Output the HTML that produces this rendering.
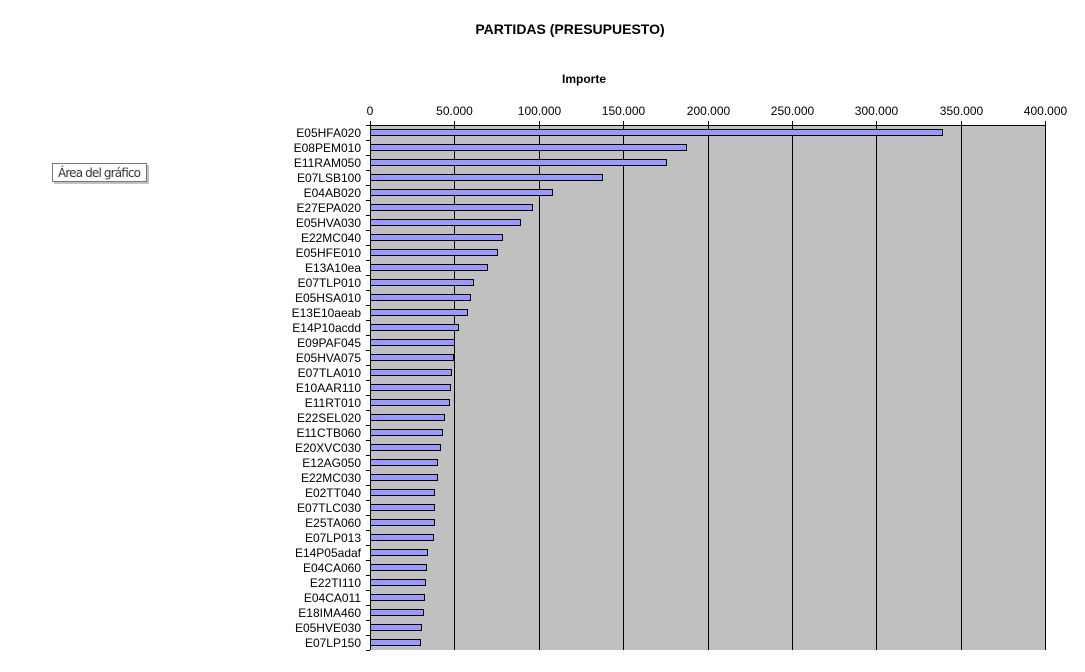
<!DOCTYPE html>
<html><head><meta charset="utf-8"><style>
body{margin:0;background:#fff;width:1085px;height:667px;overflow:hidden;font-family:"Liberation Sans",Arial,sans-serif}
</style></head><body>
<svg width="1085" height="667" xmlns="http://www.w3.org/2000/svg" font-family="Liberation Sans, Arial, sans-serif">
<rect x="0" y="0" width="1085" height="667" fill="#fff"/>
<text x="570" y="34" font-size="14" font-weight="bold" text-anchor="middle">PARTIDAS (PRESUPUESTO)</text>
<text x="584" y="83" font-size="12" font-weight="bold" text-anchor="middle">Importe</text>
<rect x="370" y="125" width="675.5" height="525" fill="#c0c0c0"/>
<g stroke="#000" stroke-width="1">
<line x1="454.5" y1="121" x2="454.5" y2="650"/>
<line x1="539.5" y1="121" x2="539.5" y2="650"/>
<line x1="623.5" y1="121" x2="623.5" y2="650"/>
<line x1="708.5" y1="121" x2="708.5" y2="650"/>
<line x1="792.5" y1="121" x2="792.5" y2="650"/>
<line x1="876.5" y1="121" x2="876.5" y2="650"/>
<line x1="961.5" y1="121" x2="961.5" y2="650"/>
<line x1="1045.5" y1="121" x2="1045.5" y2="650"/>
<line x1="370.5" y1="121" x2="370.5" y2="650"/>
<line x1="370" y1="125.5" x2="1046" y2="125.5"/>
</g>
<g font-size="12" text-anchor="middle">
<text x="370" y="115">0</text><text x="454.5" y="115">50.000</text><text x="539.5" y="115">100.000</text><text x="623.5" y="115">150.000</text><text x="708.5" y="115">200.000</text><text x="792.5" y="115">250.000</text><text x="876.5" y="115">300.000</text><text x="961.5" y="115">350.000</text><text x="1045.5" y="115">400.000</text>
</g>
<g fill="#9999ff" stroke="#000" stroke-width="1">
<rect x="370.5" y="129.5" width="572" height="6"/>
<rect x="370.5" y="144.5" width="316" height="6"/>
<rect x="370.5" y="159.5" width="296" height="6"/>
<rect x="370.5" y="174.5" width="232" height="6"/>
<rect x="370.5" y="189.5" width="182" height="6"/>
<rect x="370.5" y="204.5" width="162" height="6"/>
<rect x="370.5" y="219.5" width="150" height="6"/>
<rect x="370.5" y="234.5" width="132" height="6"/>
<rect x="370.5" y="249.5" width="127" height="6"/>
<rect x="370.5" y="264.5" width="117" height="6"/>
<rect x="370.5" y="279.5" width="103" height="6"/>
<rect x="370.5" y="294.5" width="100" height="6"/>
<rect x="370.5" y="309.5" width="97" height="6"/>
<rect x="370.5" y="324.5" width="88" height="6"/>
<rect x="370.5" y="339.5" width="84" height="6"/>
<rect x="370.5" y="354.5" width="83" height="6"/>
<rect x="370.5" y="369.5" width="81" height="6"/>
<rect x="370.5" y="384.5" width="80" height="6"/>
<rect x="370.5" y="399.5" width="79" height="6"/>
<rect x="370.5" y="414.5" width="74" height="6"/>
<rect x="370.5" y="429.5" width="72" height="6"/>
<rect x="370.5" y="444.5" width="70" height="6"/>
<rect x="370.5" y="459.5" width="67" height="6"/>
<rect x="370.5" y="474.5" width="67" height="6"/>
<rect x="370.5" y="489.5" width="64" height="6"/>
<rect x="370.5" y="504.5" width="64" height="6"/>
<rect x="370.5" y="519.5" width="64" height="6"/>
<rect x="370.5" y="534.5" width="63" height="6"/>
<rect x="370.5" y="549.5" width="57" height="6"/>
<rect x="370.5" y="564.5" width="56" height="6"/>
<rect x="370.5" y="579.5" width="55" height="6"/>
<rect x="370.5" y="594.5" width="54" height="6"/>
<rect x="370.5" y="609.5" width="53" height="6"/>
<rect x="370.5" y="624.5" width="51" height="6"/>
<rect x="370.5" y="639.5" width="50" height="6"/>
</g>
<g stroke="#000" stroke-width="1">
<line x1="366" y1="125.5" x2="370" y2="125.5"/><line x1="366" y1="140.5" x2="370" y2="140.5"/><line x1="366" y1="155.5" x2="370" y2="155.5"/><line x1="366" y1="170.5" x2="370" y2="170.5"/><line x1="366" y1="185.5" x2="370" y2="185.5"/><line x1="366" y1="200.5" x2="370" y2="200.5"/><line x1="366" y1="215.5" x2="370" y2="215.5"/><line x1="366" y1="230.5" x2="370" y2="230.5"/><line x1="366" y1="245.5" x2="370" y2="245.5"/><line x1="366" y1="260.5" x2="370" y2="260.5"/><line x1="366" y1="275.5" x2="370" y2="275.5"/><line x1="366" y1="290.5" x2="370" y2="290.5"/><line x1="366" y1="305.5" x2="370" y2="305.5"/><line x1="366" y1="320.5" x2="370" y2="320.5"/><line x1="366" y1="335.5" x2="370" y2="335.5"/><line x1="366" y1="350.5" x2="370" y2="350.5"/><line x1="366" y1="365.5" x2="370" y2="365.5"/><line x1="366" y1="380.5" x2="370" y2="380.5"/><line x1="366" y1="395.5" x2="370" y2="395.5"/><line x1="366" y1="410.5" x2="370" y2="410.5"/><line x1="366" y1="425.5" x2="370" y2="425.5"/><line x1="366" y1="440.5" x2="370" y2="440.5"/><line x1="366" y1="455.5" x2="370" y2="455.5"/><line x1="366" y1="470.5" x2="370" y2="470.5"/><line x1="366" y1="485.5" x2="370" y2="485.5"/><line x1="366" y1="500.5" x2="370" y2="500.5"/><line x1="366" y1="515.5" x2="370" y2="515.5"/><line x1="366" y1="530.5" x2="370" y2="530.5"/><line x1="366" y1="545.5" x2="370" y2="545.5"/><line x1="366" y1="560.5" x2="370" y2="560.5"/><line x1="366" y1="575.5" x2="370" y2="575.5"/><line x1="366" y1="590.5" x2="370" y2="590.5"/><line x1="366" y1="605.5" x2="370" y2="605.5"/><line x1="366" y1="620.5" x2="370" y2="620.5"/><line x1="366" y1="635.5" x2="370" y2="635.5"/><line x1="366" y1="650.5" x2="370" y2="650.5"/>
</g>
<g font-size="12" text-anchor="end">
<text x="361" y="137">E05HFA020</text>
<text x="361" y="152">E08PEM010</text>
<text x="361" y="167">E11RAM050</text>
<text x="361" y="182">E07LSB100</text>
<text x="361" y="197">E04AB020</text>
<text x="361" y="212">E27EPA020</text>
<text x="361" y="227">E05HVA030</text>
<text x="361" y="242">E22MC040</text>
<text x="361" y="257">E05HFE010</text>
<text x="361" y="272">E13A10ea</text>
<text x="361" y="287">E07TLP010</text>
<text x="361" y="302">E05HSA010</text>
<text x="361" y="317">E13E10aeab</text>
<text x="361" y="332">E14P10acdd</text>
<text x="361" y="347">E09PAF045</text>
<text x="361" y="362">E05HVA075</text>
<text x="361" y="377">E07TLA010</text>
<text x="361" y="392">E10AAR110</text>
<text x="361" y="407">E11RT010</text>
<text x="361" y="422">E22SEL020</text>
<text x="361" y="437">E11CTB060</text>
<text x="361" y="452">E20XVC030</text>
<text x="361" y="467">E12AG050</text>
<text x="361" y="482">E22MC030</text>
<text x="361" y="497">E02TT040</text>
<text x="361" y="512">E07TLC030</text>
<text x="361" y="527">E25TA060</text>
<text x="361" y="542">E07LP013</text>
<text x="361" y="557">E14P05adaf</text>
<text x="361" y="572">E04CA060</text>
<text x="361" y="587">E22TI110</text>
<text x="361" y="602">E04CA011</text>
<text x="361" y="617">E18IMA460</text>
<text x="361" y="632">E05HVE030</text>
<text x="361" y="647">E07LP150</text>
</g>
<rect x="54" y="165" width="95" height="19" fill="#999" opacity="0.6"/>
<rect x="52.5" y="163.5" width="94" height="18" fill="#fff" stroke="#767676"/>
<text x="58" y="177" font-size="12" fill="#333" font-family="DejaVu Sans, sans-serif" textLength="83">Área del gráfico</text>
</svg>
</body></html>
